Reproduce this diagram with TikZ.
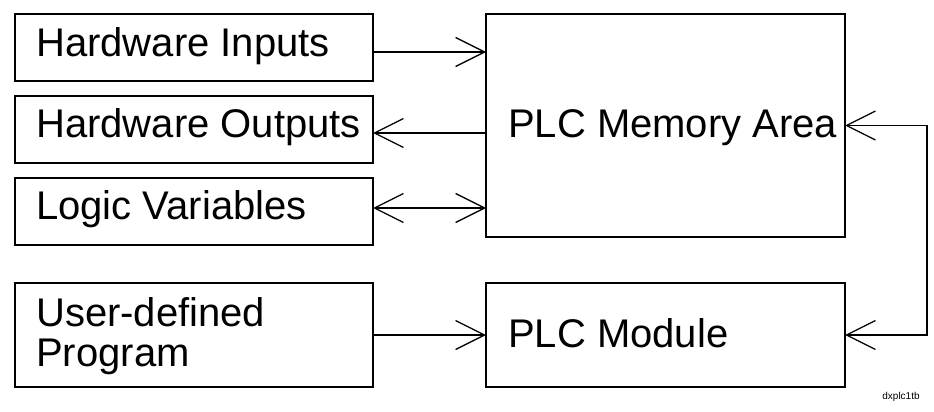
\documentclass[tikz,border=0pt]{standalone}
\usepackage{fontspec}
\setmainfont{Liberation Sans}
\usetikzlibrary{arrows.meta}
\tikzset{
  box/.style={draw=black, line width=1.3pt, rectangle, inner sep=0pt, outer sep=0pt},
  lbl/.style={anchor=base west, inner sep=0pt, font=\fontsize{40}{42}\selectfont},
  arr/.style={line width=1.3pt, -{Straight Barb[length=29pt,width=29pt,line width=1.3pt]}},
  barr/.style={line width=1.3pt, {Straight Barb[length=29pt,width=29pt,line width=1.3pt]}-{Straight Barb[length=29pt,width=29pt,line width=1.3pt]}}
}
\begin{document}
\begin{tikzpicture}[x=1pt,y=-1pt]
\useasboundingbox (0,0) rectangle (934,412);
% left boxes
\node[box, minimum width=358pt, minimum height=67pt] (b1) at (194,47.5) {};
\node[box, minimum width=358pt, minimum height=67pt] (b2) at (194,129.5) {};
\node[box, minimum width=358pt, minimum height=67pt] (b3) at (194,211.5) {};
\node[box, minimum width=358pt, minimum height=104pt] (b4) at (194,335) {};
% right boxes
\node[box, minimum width=359pt, minimum height=223pt] (mem) at (665.5,125.5) {};
\node[box, minimum width=359pt, minimum height=104pt] (mod) at (665.5,335) {};
% texts
\node[lbl] (t1) at (36,57) {Hardware Inputs};
\node[lbl] (t2) at (36,137) {Hardware Outputs};
\node[lbl] (t3) at (36,219.3) {Logic Variables};
\node[lbl] (t4a) at (36,326) {User-defined};
\node[lbl] (t4b) at (36,366.7) {Program};
\node[lbl] (tm) at (508,137.3) {PLC Memory Area};
\node[lbl] (tmod) at (508,347.3) {PLC Module};
\node[anchor=center, inner sep=0pt, font=\fontsize{10}{12}\selectfont] (tag) at (901,397) {dxplc1tb};
% connectors
\coordinate (y1) at (0,52);
\coordinate (y2) at (0,133);
\coordinate (y3) at (0,208);
\coordinate (rc) at (927,0);
\draw[arr] (b1.east |- y1) -- (mem.west |- y1);
\draw[arr] (mem.west |- y2) -- (b2.east |- y2);
\draw[barr] (b3.east |- y3) -- (mem.west |- y3);
\draw[arr] (b4.east) -- (mod.west);
\draw[barr] (mem.east) -- (mem.east -| rc) -- (mod.east -| rc) -- (mod.east);
\end{tikzpicture}
\end{document}
